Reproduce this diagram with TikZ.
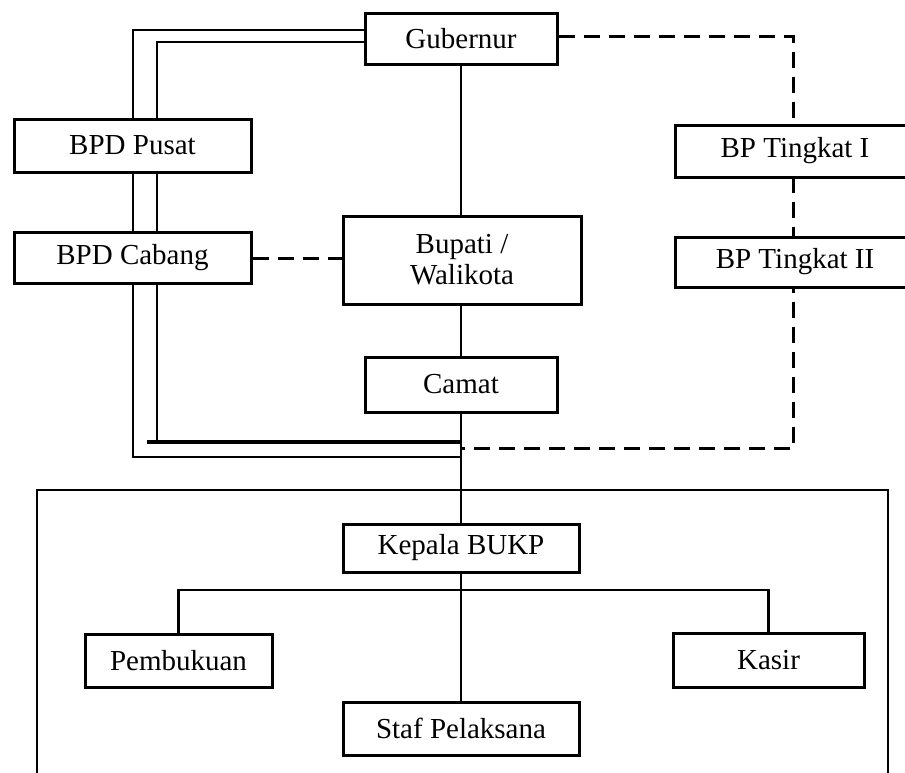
\documentclass[tikz,border=0pt]{standalone}
\usepackage{fontspec}
\setmainfont{Liberation Serif}
\usetikzlibrary{backgrounds}
\begin{document}
\begin{tikzpicture}[x=1pt,y=-1pt,
  box/.style={draw,line width=3pt,fill=white,inner sep=0pt,font=\fontsize{29}{31}\selectfont,align=center},
  conn/.style={line width=2.8pt},
  dashconn/.style={line width=3pt,dash pattern=on 16pt off 9pt},
  dbl/.style={line width=2.5pt},
  frame/.style={line width=1.5pt}]
\useasboundingbox (0,0) rectangle (905,772);
% boxes
\node[box,minimum width=192pt,minimum height=51pt] (gub) at (461,38.5) {Gubernur};
\node[box,minimum width=237pt,minimum height=53pt] (pus) at (132.5,145.5) {BPD Pusat};
\node[box,minimum width=237pt,minimum height=51pt] (cab) at (132.5,258) {BPD Cabang};
\node[box,minimum width=238pt,minimum height=88pt] (bup) at (462,260) {Bupati /\\Walikota};
\node[box,minimum width=192pt,minimum height=55pt] (cam) at (461,384.5) {Camat};
\node[box,minimum width=240pt,minimum height=52pt] (bp1) at (795,151) {BP Tingkat I};
\node[box,minimum width=240pt,minimum height=50pt] (bp2) at (795,262) {BP Tingkat II};
\node[box,minimum width=236pt,minimum height=48pt] (kep) at (461,548) {Kepala BUKP};
\node[box,minimum width=187pt,minimum height=53pt] (pem) at (178.5,660.5) {Pembukuan};
\node[box,minimum width=191pt,minimum height=54pt] (kas) at (768.5,660) {Kasir};
\node[box,minimum width=236pt,minimum height=53pt] (staf) at (461,728.5) {Staf Pelaksana};
% connectors
\begin{scope}[on background layer]
\fill[white] (0,0) rectangle (905,772);
\draw[frame] (37,490) rectangle (888,800);
\coordinate (oTL) at (133,30);
\coordinate (oBL) at (133,457);
\coordinate (iTL) at (157,42);
\coordinate (iBL) at (157,442);
\coordinate (iStart) at (147,442);
\coordinate (dTR) at (793,36);
\coordinate (dBR) at (793,448);
\coordinate (bar) at (461,590);
\draw[dbl] (gub.west |- oTL) -- (oTL) -- (oBL) -- (oBL -| cam.south);
\draw[dbl] (gub.west |- iTL) -- (iTL) -- (iBL);
\draw[line width=3.6pt] (iStart) -- (iStart -| cam.south);
\draw[dashconn] (gub.east |- dTR) -- (dTR) -- (dBR) -- (dBR -| cam.south);
\draw[dashconn] (cab.east) -- (bup.west |- cab.east);
\draw[conn] (gub.south) -- (gub.south |- bup.north);
\draw[conn] (cam.north |- bup.south) -- (cam.north);
\draw[conn] (cam.south) -- (kep.north);
\draw[conn] (kep.south) -- (staf.north);
\draw[conn] (pem.north) -- (pem.north |- bar) -- (kas.north |- bar) -- (kas.north);
\end{scope}
\end{tikzpicture}
\end{document}
